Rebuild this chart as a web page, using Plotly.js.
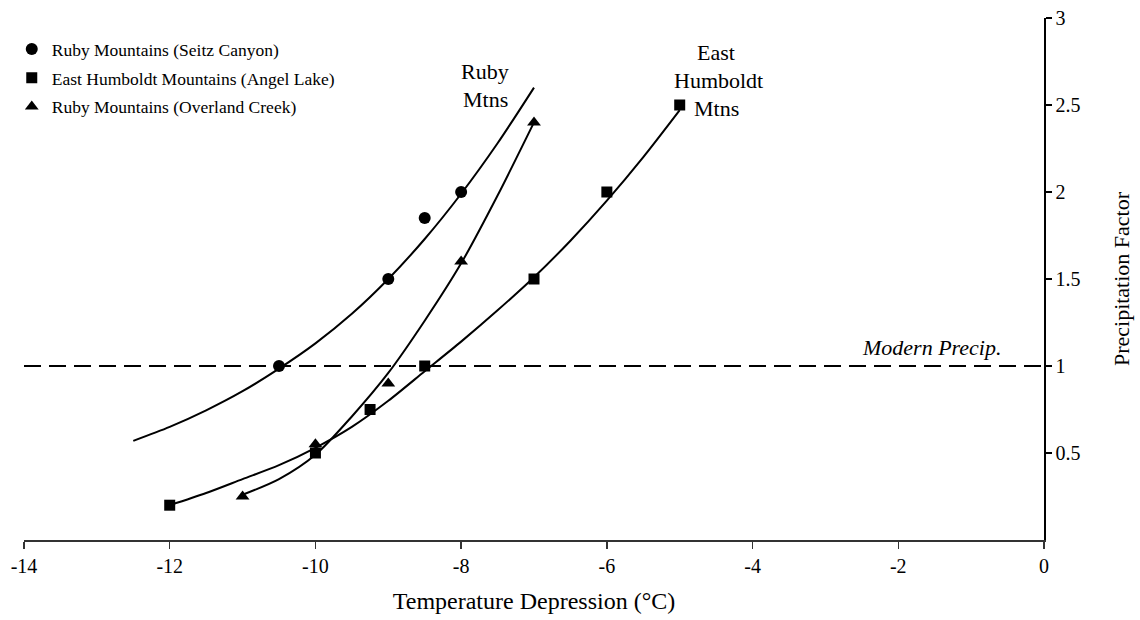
<!DOCTYPE html>
<html>
<head>
<meta charset="utf-8">
<script src="https://cdn.plot.ly/plotly-3.0.1.min.js"></script>
<style>html,body{margin:0;padding:0;background:#fff;}#chart{width:1140px;height:620px;}</style>
</head>
<body>
<div id="chart"></div>
<script>
// Observed data points
const seitzX = [-10.5, -9, -8.5, -8];
const seitzY = [1.0, 1.5, 1.85, 2.0];
const angelX = [-12, -10, -9.25, -8.5, -7, -6, -5];
const angelY = [0.2, 0.5, 0.75, 1.0, 1.5, 2.0, 2.5];
const overlandX = [-11, -10, -9, -8, -7];
const overlandY = [0.25, 0.55, 0.9, 1.6, 2.4];

// Trend curves
const seitzTrendX = [-12.5, -12, -11.5, -11, -10.5, -10, -9.5, -9, -8.5, -8, -7.5, -7];
const seitzTrendY = [0.57, 0.65, 0.745, 0.855, 0.985, 1.13, 1.30, 1.50, 1.73, 1.99, 2.28, 2.60];
const overlandTrendX = [-11, -10.5, -10, -9.5, -9, -8.5, -8, -7.5, -7];
const overlandTrendY = [0.26, 0.35, 0.49, 0.71, 0.96, 1.26, 1.59, 1.98, 2.40];
const angelTrendX = [-12, -11.5, -11, -10.5, -10, -9.5, -9, -8.5, -8, -7.5, -7, -6.5, -6, -5.5, -5];
const angelTrendY = [0.20, 0.27, 0.35, 0.43, 0.53, 0.65, 0.80, 0.97, 1.14, 1.32, 1.51, 1.72, 1.95, 2.20, 2.47];

const modernPrecip = 1;
const seriesNames = ["Ruby Mountains (Seitz Canyon)", "East Humboldt Mountains (Angel Lake)", "Ruby Mountains (Overland Creek)"];
const xTicks = [-14, -12, -10, -8, -6, -4, -2, 0];
const yTicks = [0.5, 1, 1.5, 2, 2.5, 3];

const FONT = "Liberation Serif, Times New Roman, serif";
const lineStyle = {color: "#000", width: 2, shape: "spline", smoothing: 0.8};

const traces = [
  {x: seitzTrendX, y: seitzTrendY, mode: "lines", line: lineStyle, showlegend: false, hoverinfo: "skip"},
  {x: overlandTrendX, y: overlandTrendY, mode: "lines", line: lineStyle, showlegend: false, hoverinfo: "skip"},
  {x: angelTrendX, y: angelTrendY, mode: "lines", line: lineStyle, showlegend: false, hoverinfo: "skip"},
  {x: seitzX, y: seitzY, mode: "markers", name: seriesNames[0], legendgroup: "a",
   marker: {symbol: "circle", size: 12, color: "#000"}},
  {x: angelX, y: angelY, mode: "markers", name: seriesNames[1], legendgroup: "b",
   marker: {symbol: "square", size: 11, color: "#000"}},
  {x: overlandX, y: overlandY, mode: "markers", name: seriesNames[2], legendgroup: "c",
   marker: {symbol: "triangle-up", size: 12, color: "#000"}}
];

const labelFont = {family: FONT, size: 22, color: "#000"};
const layout = {
  width: 1140, height: 620,
  margin: {l: 24, r: 96, t: 18, b: 80},
  paper_bgcolor: "#fff", plot_bgcolor: "#fff",
  font: {family: FONT, color: "#000"},
  xaxis: {
    range: [-14, 0], tickvals: xTicks, ticktext: xTicks.map(String),
    showgrid: false, zeroline: false, showline: true, linecolor: "#333", linewidth: 2,
    ticks: "outside", ticklen: 7, tickcolor: "#333", tickwidth: 1.5,
    tickfont: {family: FONT, size: 20, color: "#000"},
    title: {text: "Temperature Depression (°C)", font: {family: FONT, size: 24, color: "#000"}, standoff: 16}
  },
  yaxis: {
    range: [0, 3], side: "right", tickvals: yTicks, ticktext: yTicks.map(String),
    showgrid: false, zeroline: false, showline: true, linecolor: "#000", linewidth: 1.5,
    ticks: "outside", ticklen: 6, tickcolor: "#000", tickwidth: 1.5,
    tickfont: {family: FONT, size: 20, color: "#000"},
    title: {text: "Precipitation Factor", font: {family: FONT, size: 22, color: "#000"}, standoff: 34}
  },
  showlegend: true,
  legend: {
    x: -0.012, y: 0.975, xanchor: "left", yanchor: "top",
    traceorder: "grouped", tracegroupgap: 3, itemwidth: 30,
    font: {family: FONT, size: 17.5, color: "#000"}, bgcolor: "rgba(0,0,0,0)"
  },
  shapes: [{
    type: "line", xref: "x", yref: "y", x0: -14, x1: 0, y0: modernPrecip, y1: modernPrecip,
    line: {color: "#000", width: 2, dash: "17px,8px"}, layer: "below"
  }],
  annotations: [
    {x: -0.56, y: modernPrecip, xref: "x", yref: "y", xanchor: "right", yanchor: "bottom", yshift: 4,
     text: "<i>Modern Precip.</i>", showarrow: false, font: {family: FONT, size: 22, color: "#000"}},
    {x: -7.67, y: 2.69, xref: "x", yref: "y", text: "Ruby", showarrow: false, font: labelFont},
    {x: -7.67, y: 2.53, xref: "x", yref: "y", text: "Mtns", showarrow: false, font: labelFont},
    {x: -4.5, y: 2.80, xref: "x", yref: "y", text: "East", showarrow: false, font: labelFont},
    {x: -4.47, y: 2.64, xref: "x", yref: "y", text: "Humboldt", showarrow: false, font: labelFont},
    {x: -4.49, y: 2.48, xref: "x", yref: "y", text: "Mtns", showarrow: false, font: labelFont}
  ]
};

Plotly.newPlot("chart", traces, layout, {displayModeBar: false, staticPlot: true});
</script>
</body>
</html>
